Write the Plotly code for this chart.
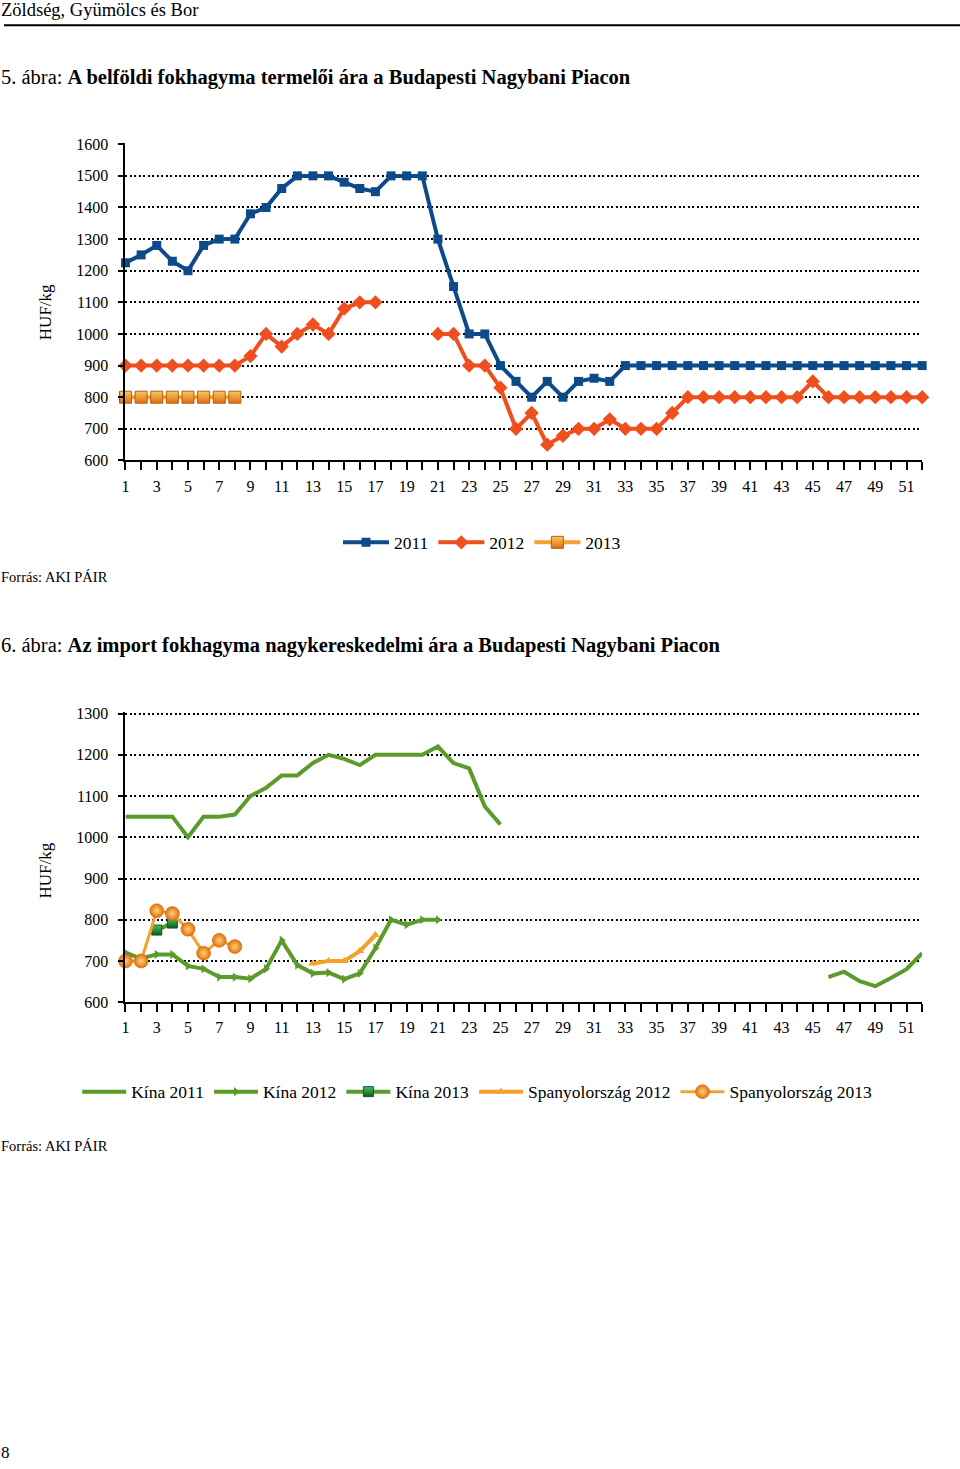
import plotly.graph_objects as go

W, H = 960, 1469

weeks = list(range(1, 53))

# ---- Chart 1: belföldi fokhagyma termelői ára (HUF/kg) ----
y2011 = [1225, 1250, 1280, 1230, 1200, 1280, 1300, 1300, 1380, 1400, 1460, 1500, 1500,
         1500, 1480, 1460, 1450, 1500, 1500, 1500, 1300, 1150, 1000, 1000, 900, 850,
         800, 850, 800, 850, 860, 850, 900, 900, 900, 900, 900, 900, 900, 900, 900,
         900, 900, 900, 900, 900, 900, 900, 900, 900, 900, 900]
y2012 = [900, 900, 900, 900, 900, 900, 900, 900, 930, 1000, 960, 1000, 1030, 1000,
         1080, 1100, 1100, None, None, None, 1000, 1000, 900, 900, 830, 700, 750,
         650, 678, 700, 700, 730, 700, 700, 700, 750, 800, 800, 800, 800, 800, 800,
         800, 800, 850, 800, 800, 800, 800, 800, 800, 800]
y2013 = [800, 800, 800, 800, 800, 800, 800, 800]

# ---- Chart 2: import fokhagyma nagykereskedelmi ára (HUF/kg) ----
kina2011 = [1050, 1050, 1050, 1050, 1000, 1050, 1050, 1055, 1100, 1120, 1150, 1150,
            1180, 1200, 1190, 1175, 1200, 1200, 1200, 1200, 1220, 1180, 1167, 1075,
            1031] + [None] * 20 + [661, 674, 651, 639, 659, 680, 719]
kina2012 = [720, 706, 716, 716, 688, 681, 661, 661, 657, 681, 750, 690, 670, 672,
            656, 670, 731, 800, 788, 800, 800]
kina2013_weeks = [3, 4]
kina2013 = [775, 792]
spany2012_weeks = [13, 14, 15, 16, 17]
spany2012 = [694, 700, 700, 724, 763]
spany2013 = [700, 700, 822, 815, 777, 719, 750, 735]

y1_ticks = list(range(600, 1700, 100))
y2_ticks = list(range(600, 1400, 100))
x_ticktext = [str(w) if w % 2 == 1 else "" for w in weeks]

FONT = "Liberation Serif"
BLUE = "#0D4A8A"
RED = "#EF4E1E"
ORANGE = "#F6A12D"
GREEN = "#5A9B2A"

fig = go.Figure()

fig.add_trace(go.Scatter(x=weeks, y=y2011, name="2011", mode="lines+markers",
                         line=dict(color=BLUE, width=4),
                         marker=dict(symbol="square", size=9, color=BLUE),
                         cliponaxis=False, legend="legend", xaxis="x", yaxis="y"))
fig.add_trace(go.Scatter(x=weeks, y=y2012, name="2012", mode="lines+markers",
                         line=dict(color=RED, width=4),
                         marker=dict(symbol="diamond", size=11, color=RED),
                         connectgaps=False, cliponaxis=False,
                         legend="legend", xaxis="x", yaxis="y"))
fig.add_trace(go.Scatter(x=weeks[:len(y2013)], y=y2013, name="2013", mode="lines+markers",
                         line=dict(color=ORANGE, width=4),
                         marker=dict(symbol="square", size=12, color="#FBC760",
                                     gradient=dict(type="vertical", color="#D8700E"),
                                     line=dict(color="#B85E0C", width=1)),
                         cliponaxis=False, legend="legend", xaxis="x", yaxis="y"))

fig.add_trace(go.Scatter(x=weeks, y=kina2011, name="Kína 2011", mode="lines",
                         line=dict(color=GREEN, width=4), connectgaps=False,
                         cliponaxis=False, legend="legend2", xaxis="x2", yaxis="y2"))
fig.add_trace(go.Scatter(x=weeks[:len(kina2012)], y=kina2012, name="Kína 2012",
                         mode="lines+markers", line=dict(color=GREEN, width=4),
                         marker=dict(symbol="triangle-right", size=8, color=GREEN),
                         cliponaxis=False, legend="legend2", xaxis="x2", yaxis="y2"))
fig.add_trace(go.Scatter(x=kina2013_weeks, y=kina2013, name="Kína 2013",
                         mode="lines+markers", line=dict(color=GREEN, width=4),
                         marker=dict(symbol="square", size=10, color="#4CC060",
                                     gradient=dict(type="vertical", color="#0E5A20"),
                                     line=dict(color="#0E5A20", width=1)),
                         cliponaxis=False, legend="legend2", xaxis="x2", yaxis="y2"))
fig.add_trace(go.Scatter(x=spany2012_weeks, y=spany2012, name="Spanyolország 2012",
                         mode="lines+markers", line=dict(color=ORANGE, width=4),
                         marker=dict(symbol="triangle-up", size=8, color=ORANGE),
                         cliponaxis=False, legend="legend2", xaxis="x2", yaxis="y2"))
fig.add_trace(go.Scatter(x=weeks[:len(spany2013)], y=spany2013, name="Spanyolország 2013",
                         mode="lines+markers", line=dict(color=ORANGE, width=3),
                         marker=dict(symbol="circle", size=14, color="#E2700A",
                                     gradient=dict(type="radial", color="#FFD27A"),
                                     line=dict(color="#C8600E", width=0.5)),
                         cliponaxis=False, legend="legend2", xaxis="x2", yaxis="y2"))


def py(target_px):
    """paper y for a target pixel row (compensates the observed vertical mapping)"""
    d = target_px * 1486 / 1469 - 6.9
    d = min(max(d, 0), H)
    return 1 - d / H


xdom = [122 / W, 922 / W]
axis_common = dict(showline=True, linecolor="black", linewidth=2, ticks="outside",
                   tickcolor="black", tickwidth=1.5, zeroline=False,
                   tickfont=dict(family=FONT, size=16, color="black"))
xcommon = dict(axis_common, range=[1, 52], tickmode="array", tickvals=weeks,
               ticktext=x_ticktext, ticklen=8, showgrid=False, domain=xdom,
               ticklabelstandoff=2)
ycommon = dict(axis_common, ticklen=5, showgrid=True, gridcolor="black",
               gridwidth=1.8, griddash="2px,2.5px", tickmode="array",
               ticklabelstandoff=7)

# extend range slightly above the top tick so its gridline is drawn
top1_px = 144 - 3 * 316 / 1000
top2_px = 713 - 3 * 289 / 700

fig.update_layout(
    width=W, height=H, margin=dict(l=0, r=0, t=0, b=0),
    paper_bgcolor="white", plot_bgcolor="white",
    font=dict(family=FONT, size=16, color="black"),
    xaxis=dict(xcommon, anchor="y"),
    yaxis=dict(ycommon, range=[600, 1603], tickvals=y1_ticks,
               domain=[py(460), py(top1_px)], anchor="x"),
    xaxis2=dict(xcommon, anchor="y2"),
    yaxis2=dict(ycommon, range=[600, 1303], tickvals=y2_ticks,
                domain=[py(1001.5), py(top2_px)], anchor="x2"),
    legend=dict(orientation="h", x=0.5, xanchor="center", y=py(542), yanchor="middle",
                font=dict(family=FONT, size=17.5, color="black"), bgcolor="rgba(0,0,0,0)",
                itemwidth=46, tracegroupgap=0),
    legend2=dict(orientation="h", x=0.495, xanchor="center", y=py(1091), yanchor="middle",
                 font=dict(family=FONT, size=17.5, color="black"), bgcolor="rgba(0,0,0,0)",
                 itemwidth=44, tracegroupgap=0),
    showlegend=True,
)

fig.add_shape(type="line", xref="paper", yref="paper", x0=0, x1=1, y0=py(25), y1=py(25),
              line=dict(color="black", width=2))

ann = [
    dict(text="Zöldség, Gyümölcs és Bor", x=0, y=py(10), size=18.5),
    dict(text="5. ábra: <b>A belföldi fokhagyma termelői ára a Budapesti Nagybani Piacon</b>",
         x=0, y=py(77), size=20.5),
    dict(text="Forrás: AKI PÁIR", x=0, y=py(577), size=14.5),
    dict(text="6. ábra: <b>Az import fokhagyma nagykereskedelmi ára a Budapesti Nagybani Piacon</b>",
         x=0, y=py(645), size=20.5),
    dict(text="Forrás: AKI PÁIR", x=0, y=py(1145), size=14.5),
    dict(text="8", x=0, y=py(1452), size=17),
]
for a in ann:
    fig.add_annotation(text=a["text"], xref="paper", yref="paper", x=a["x"], y=a["y"],
                       xanchor="left", yanchor="middle", showarrow=False, xshift=-5,
                       font=dict(family=FONT, size=a["size"], color="black"))

for yc in (312, 870):
    fig.add_annotation(text="HUF/kg", xref="paper", yref="paper", x=42 / W, y=py(yc),
                       xanchor="center", yanchor="middle", textangle=-90, showarrow=False,
                       font=dict(family=FONT, size=17, color="black"))

post = ("document.documentElement.style.margin='0';document.body.style.margin='0';"
        "document.body.style.overflow='hidden';"
        "var d=document.getElementById('{plot_id}');"
        "d.style.position='fixed';d.style.top='0px';d.style.left='0px';")

fig.write_html("out.html", config={"displayModeBar": False}, post_script=post)
